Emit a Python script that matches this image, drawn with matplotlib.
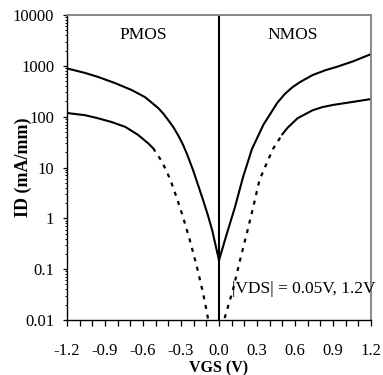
import numpy as np
import matplotlib
matplotlib.use('Agg')
import matplotlib.pyplot as plt
from matplotlib.ticker import MultipleLocator, FixedLocator, LogLocator, FuncFormatter

plt.rcParams['font.family'] = ['Liberation Serif', 'DejaVu Serif']

# VDS = 1.2 V curves (solid)
vgs_p_hi = [-1.2, -1.058, -0.955, -0.821, -0.687, -0.584, -0.48, -0.44, -0.40, -0.36, -0.32,
            -0.284, -0.25, -0.205, -0.165, -0.126, -0.09, -0.055, 0.0]
id_p_hi = [890, 725, 605, 458, 332, 242, 148, 115, 85, 62, 42,
           28, 17.7, 8.9, 4.5, 2.3, 1.2, 0.6, 0.15]
vgs_n_hi = [0.0, 0.063, 0.126, 0.19, 0.26, 0.35, 0.46, 0.52, 0.58, 0.64, 0.74, 0.84, 0.93, 1.06, 1.2]
id_n_hi = [0.15, 0.51, 1.66, 6.5, 23, 69, 187, 280, 380, 480, 660, 820, 955, 1230, 1700]

# VDS = 0.05 V curves (solid at high |VGS|, dashed near zero)
vgs_p_lo_solid = [-1.2, -1.058, -0.955, -0.845, -0.74, -0.64, -0.56, -0.52]
id_p_lo_solid = [118, 107, 93, 78, 63, 44, 30, 24]
vgs_p_lo_dash = [-0.52, -0.45, -0.387, -0.33, -0.284, -0.23, -0.174, -0.126, -0.095, -0.075]
id_p_lo_dash = [24, 13, 6, 2.4, 1.06, 0.37, 0.11, 0.034, 0.014, 0.007]
vgs_n_lo_dash = [0.035, 0.047, 0.11, 0.166, 0.22, 0.27, 0.32, 0.387, 0.43, 0.5]
id_n_lo_dash = [0.007, 0.0115, 0.039, 0.15, 0.51, 1.66, 5.7, 14, 24, 45]
vgs_n_lo_solid = [0.5, 0.54, 0.62, 0.74, 0.82, 0.9, 1.2]
id_n_lo_solid = [45, 60, 93, 134, 155, 170, 222]

x_ticks = [-1.2, -0.9, -0.6, -0.3, 0.0, 0.3, 0.6, 0.9, 1.2]

fig = plt.figure(figsize=(3.83, 3.75), dpi=100)
ax = fig.add_axes([67 / 383, 55 / 375, 304 / 383, 305 / 375])

ax.plot(vgs_p_hi, id_p_hi, color='black', lw=1.5)
ax.plot(vgs_n_hi, id_n_hi, color='black', lw=1.5)
ax.plot(vgs_p_lo_solid, id_p_lo_solid, color='black', lw=1.5)
ax.plot(vgs_n_lo_solid, id_n_lo_solid, color='black', lw=1.5)
ax.plot(vgs_p_lo_dash, id_p_lo_dash, color='black', lw=1.6, linestyle=(0, (1.8, 2.6)))
ax.plot(vgs_n_lo_dash, id_n_lo_dash, color='black', lw=1.6, linestyle=(0, (1.8, 2.6)))
ax.axvline(0, color='black', lw=1.5)

ax.set_yscale('log')
ax.set_xlim(-1.2, 1.2)
ax.set_ylim(0.01, 10000)

ax.xaxis.set_major_locator(FixedLocator(x_ticks))
ax.xaxis.set_minor_locator(MultipleLocator(0.1))
ax.xaxis.set_major_formatter(FuncFormatter(lambda v, p: '%.1f' % v))
ax.yaxis.set_major_locator(LogLocator(base=10, numticks=10))
ax.yaxis.set_minor_locator(LogLocator(base=10, subs=np.arange(2, 10), numticks=10))
ax.yaxis.set_major_formatter(FuncFormatter(lambda v, p: '%g' % v))

ax.tick_params(axis='x', which='both', direction='out', length=4.3, width=0.9, labelsize=12, pad=12)
ax.tick_params(axis='y', which='major', direction='out', length=3.2, width=0.9, labelsize=12, pad=6)
ax.tick_params(axis='y', which='minor', direction='out', length=1.6, width=0.7)

for s in ['top', 'right']:
    ax.spines[s].set_color('#808080')
    ax.spines[s].set_linewidth(1.3)
for s in ['left', 'bottom']:
    ax.spines[s].set_color('black')
    ax.spines[s].set_linewidth(1.0)

ax.set_xlabel('VGS (V)', fontsize=11.5, fontweight='bold', va='center')
ax.set_ylabel('ID (mA/mm)', fontsize=13, fontweight='bold', va='center')
ax.xaxis.set_label_coords(0.5, -0.158)
ax.yaxis.set_label_coords(-0.145, 0.5)

ax.text(-0.6, 4000, 'PMOS', fontsize=12.5, ha='center', va='center')
ax.text(0.58, 4000, 'NMOS', fontsize=12.5, ha='center', va='center')
ax.text(0.1, 0.04, '|VDS| = 0.05V, 1.2V', fontsize=12.5, ha='left', va='center')

plt.savefig('out.png', dpi=100)
